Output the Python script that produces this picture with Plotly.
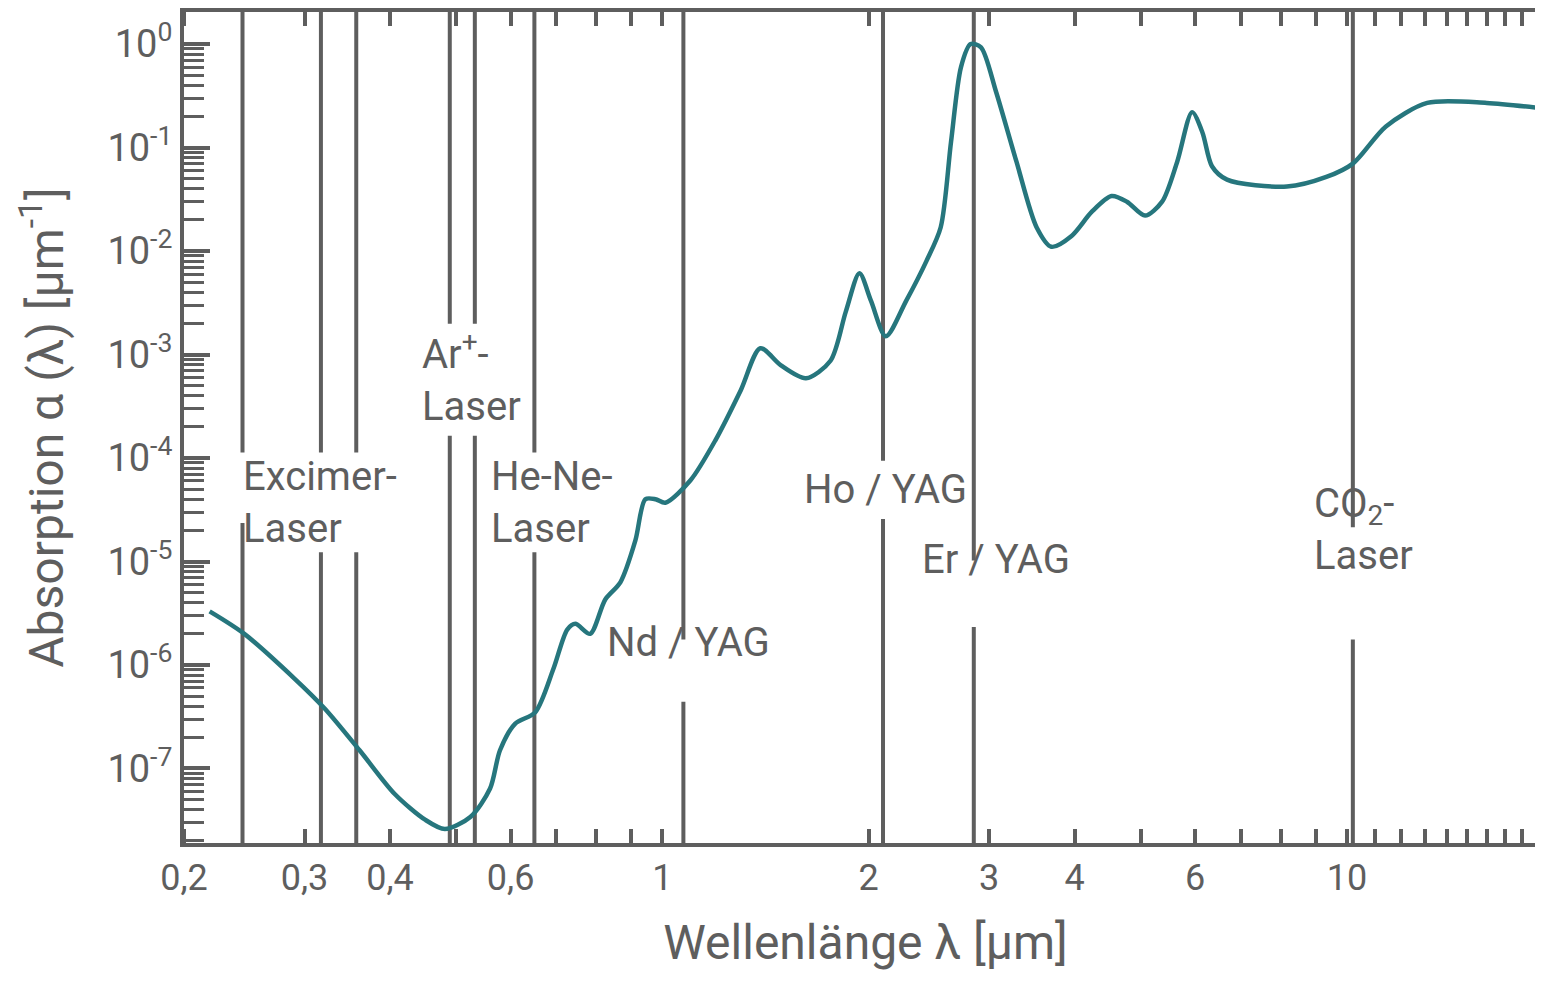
import numpy as np
import plotly.graph_objects as go

wl = [0.218,0.245,0.290,0.321,0.361,0.406,0.45,0.481,0.524,0.56,0.579,0.609,0.652,0.693,0.726,0.746,0.784,0.825,0.868,0.913,0.944,0.977,1.01,1.099,1.196,1.301,1.39,1.488,1.62,1.76,1.853,1.94,2.017,2.12,2.27,2.43,2.55,2.64,2.73,2.82,2.92,3.07,3.29,3.52,3.70,3.96,4.24,4.53,4.77,5.07,5.37,5.65,5.94,6.15,6.35,6.68,8.17,9.33,10.2,11.4,13.1,16.0,19.2]
alpha = [3.3e-6,2e-6,7.4e-7,3.8e-7,1.5e-7,5.7e-8,3.2e-8,2.6e-8,3.4e-8,6.4e-8,1.5e-7,2.7e-7,3.5e-7,9.2e-7,2.2e-6,2.5e-6,2e-6,4.3e-6,6.3e-6,1.6e-5,4e-5,4e-5,3.7e-5,6.1e-5,1.5e-4,4.5e-4,1.15e-3,7.9e-4,5.9e-4,8.7e-4,2.6e-3,6.1e-3,3.3e-3,1.5e-3,3.3e-3,8e-3,1.7e-2,0.114,0.6,1.0,0.93,0.35,0.073,0.017,0.011,0.014,0.024,0.034,0.030,0.022,0.030,0.073,0.22,0.14,0.066,0.049,0.042,0.052,0.07,0.16,0.27,0.27,0.24]

lasers = [0.2435,0.317,0.357,0.489,0.532,0.650,1.073,2.10,2.85,10.2]
# gap in each line (paper fraction, bottom, top) where labels sit
gaps = [(0.385,0.47),(0.35,0.47),(0.35,0.47),(0.49,0.625),(0.49,0.625),(0.35,0.47),(0.17,0.245),(0.39,0.46),(0.26,0.34),(0.245,0.38)]

# (text, x, paper y, anchor)
labels = [("Excimer-<br>Laser",0.316,0.41,"center"),("Ar<sup>+</sup>-<br>Laser",0.442,0.56,"left"),("He-Ne-<br>Laser",0.69,0.41,"center"),
          ("Nd / YAG",1.09,0.21,"center"),("Ho / YAG",2.12,0.425,"center"),("Er / YAG",3.07,0.31,"center"),("CO<sub>2</sub>-<br>Laser",8.9,0.315,"left")]

xticks = [0.2,0.3,0.4,0.6,1,2,3,4,6,10]
xticktext = ["0,2","0,3","0,4","0,6","1","2","3","4","6","10"]
yexp = list(range(-7,1))

gray = "#5e5e5e"
fig = go.Figure()
fig.add_trace(go.Scatter(x=wl, y=alpha, mode="lines", line=dict(color="#26767d", width=4.5, shape="spline", smoothing=0.8), showlegend=False))

for xv,(g0,g1) in zip(lasers,gaps):
    for a,b in [(0,g0),(g1,1)]:
        fig.add_shape(type="line", xref="x", yref="paper", x0=xv, x1=xv, y0=a, y1=b, line=dict(color=gray, width=4), layer="below")

for t,xv,yp,anc in labels:
    fig.add_annotation(x=np.log10(xv), y=yp, yref="paper", text=t, showarrow=False, xanchor=anc,
                       font=dict(size=40, color=gray, family="Roboto"), align="left")

minor_x = [v for v in list(np.arange(0.2,1.0,0.1))+list(range(1,10))+list(range(10,20))]
fig.update_xaxes(type="log", range=[np.log10(0.2), np.log10(19.6)],
                 tickvals=xticks, ticktext=xticktext, ticks="",
                 minor=dict(tickvals=minor_x, ticks="inside", ticklen=14, tickwidth=4, tickcolor=gray),
                 showline=True, mirror="allticks", linewidth=4, linecolor=gray, showgrid=False,
                 tickfont=dict(size=36, color=gray, family="Roboto"),
                 title=dict(text="Wellenlänge λ [µm]", font=dict(size=48, color=gray, family="Roboto"), standoff=28))
minor_y = [m*10.0**e for e in range(-8,1) for m in range(2,10)]
fig.update_yaxes(type="log", range=[-7.72, 0.31],
                 tickvals=[10.0**e for e in yexp], ticktext=[f"10<sup>{e}</sup>" for e in yexp],
                 ticks="inside", ticklen=26, tickwidth=4, tickcolor=gray,
                 minor=dict(tickvals=minor_y, ticks="inside", ticklen=20, tickwidth=3, tickcolor=gray),
                 showline=True, mirror=True, linewidth=4, linecolor=gray, showgrid=False,
                 tickfont=dict(size=38, color=gray, family="Roboto"),
                 title=dict(text="Absorption α (λ) [µm<sup>-1</sup>]", font=dict(size=48, color=gray, family="Roboto"), standoff=30))
fig.update_layout(width=1543, height=992, margin=dict(l=176, r=0, t=4, b=157, pad=0),
                  plot_bgcolor="white", paper_bgcolor="white")
fig.write_html("out.html")
